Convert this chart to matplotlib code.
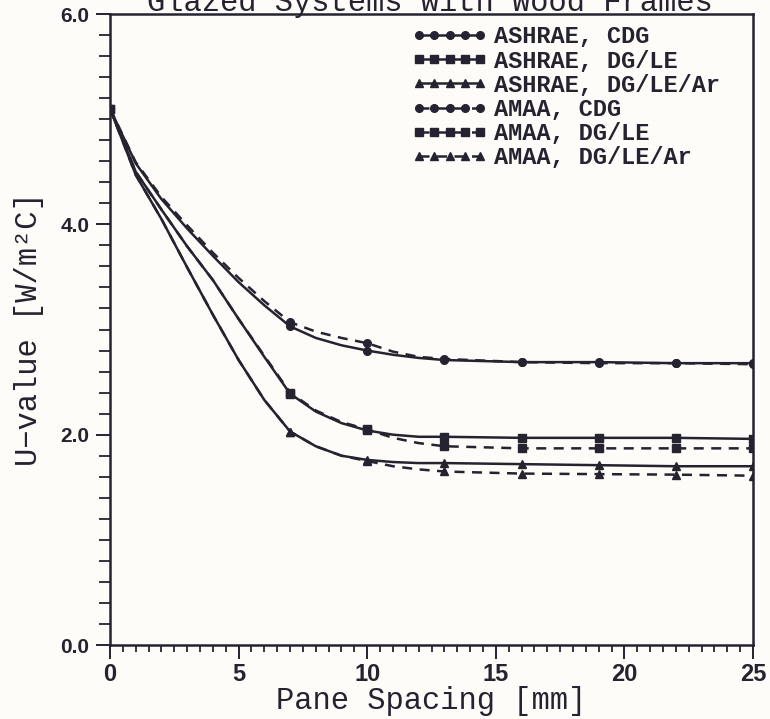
import numpy as np
import matplotlib
matplotlib.use('Agg')
import matplotlib.pyplot as plt
from matplotlib.ticker import MultipleLocator, FormatStrFormatter

# Pane spacing [mm]
spacing = [0, 1, 2, 3, 4, 5, 6, 7, 8, 9, 10, 11, 12, 13, 16, 19, 22, 25]
# points that carry a marker
marked = [0, 7, 10, 13, 16, 19, 22, 25]

# U-values [W/m2C]
ashrae_cdg = [5.10, 4.58, 4.24, 3.96, 3.70, 3.45, 3.23, 3.03, 2.92, 2.85, 2.80,
              2.76, 2.73, 2.71, 2.69, 2.69, 2.68, 2.68]
ashrae_le = [5.10, 4.50, 4.14, 3.79, 3.47, 3.10, 2.74, 2.39, 2.22, 2.11, 2.04,
             2.00, 1.98, 1.98, 1.97, 1.97, 1.97, 1.96]
ashrae_ar = [5.10, 4.47, 4.05, 3.59, 3.14, 2.71, 2.33, 2.03, 1.89, 1.80, 1.76,
             1.74, 1.73, 1.73, 1.72, 1.71, 1.70, 1.70]
amaa_cdg = [5.10, 4.59, 4.26, 3.99, 3.73, 3.49, 3.27, 3.07, 2.98, 2.92, 2.87,
            2.79, 2.74, 2.72, 2.69, 2.68, 2.68, 2.67]
amaa_le = [5.10, 4.50, 4.14, 3.79, 3.47, 3.10, 2.75, 2.40, 2.23, 2.12, 2.05,
           1.97, 1.92, 1.89, 1.87, 1.87, 1.87, 1.87]
amaa_ar = [5.10, 4.47, 4.05, 3.59, 3.14, 2.71, 2.33, 2.03, 1.89, 1.80, 1.75,
           1.70, 1.67, 1.65, 1.63, 1.625, 1.62, 1.61]

labels = ["ASHRAE, CDG", "ASHRAE, DG/LE", "ASHRAE, DG/LE/Ar",
          "AMAA, CDG", "AMAA, DG/LE", "AMAA, DG/LE/Ar"]
series = [ashrae_cdg, ashrae_le, ashrae_ar, amaa_cdg, amaa_le, amaa_ar]
markers = ['o', 's', '^', 'o', 's', '^']
styles = ['-', '-', '-', (0, (4, 3)), (0, (4, 3)), (0, (4, 3))]

ink = '#262330'
paper = '#fdfcf8'
mono = ['Liberation Mono', 'DejaVu Sans Mono']
sans = ['Liberation Sans', 'DejaVu Sans']

plt.rcParams['font.family'] = sans
plt.rcParams['font.weight'] = 'bold'

fig = plt.figure(figsize=(7.7, 7.19), dpi=100, facecolor=paper)
ax = fig.add_axes([0.1429, 0.1029, 0.835, 0.8776])
ax.set_facecolor(paper)

idx = [spacing.index(m) for m in marked]
for y, lab, mk, ls in zip(series, labels, markers, styles):
    ax.plot(spacing, y, color=ink, lw=1.8, ls=ls, marker=mk, markersize=5.5,
            markevery=idx, markerfacecolor=ink, markeredgecolor=ink, label=lab)

ax.set_xlim(0, 25)
ax.set_ylim(0, 6)
ax.xaxis.set_major_locator(MultipleLocator(5))
ax.xaxis.set_minor_locator(MultipleLocator(0.5))
ax.yaxis.set_major_locator(MultipleLocator(2))
ax.yaxis.set_minor_locator(MultipleLocator(0.2))
ax.yaxis.set_major_formatter(FormatStrFormatter('%.1f'))
ax.tick_params(which='major', direction='out', length=10, width=1.4,
               color=ink, labelcolor=ink)
ax.tick_params(axis='x', which='minor', direction='out', length=5, width=1.3,
               color=ink)
ax.tick_params(axis='y', which='minor', direction='out', length=8, width=1.3,
               color=ink)
ax.tick_params(axis='x', labelsize=17, pad=3)
ax.tick_params(axis='y', labelsize=15, pad=5)
for sp in ax.spines.values():
    sp.set_color(ink)
    sp.set_linewidth(1.8)

ax.set_xlabel('Pane Spacing [mm]', fontfamily=mono, fontweight='normal',
              fontsize=22, color=ink, labelpad=0)
ax.set_ylabel('U\u2212value [W/m\u00b2C]', fontfamily=mono, fontweight='normal',
              fontsize=22, color=ink, labelpad=12)

fig.text(0.558, 0.985, 'Glazed Systems with Wood Frames', fontfamily=mono,
         fontweight='normal', fontsize=22, color=ink, ha='center',
         va='baseline')

leg = ax.legend(loc='upper left', bbox_to_anchor=(0.44, 1.012), frameon=False,
                numpoints=5, handlelength=3.2, handletextpad=0.3,
                labelspacing=0.05, borderpad=0.3,
                prop={'family': mono, 'weight': 'bold', 'size': 17})
for t in leg.get_texts():
    t.set_color(ink)

plt.savefig('out.png', dpi=100, facecolor=fig.get_facecolor())
